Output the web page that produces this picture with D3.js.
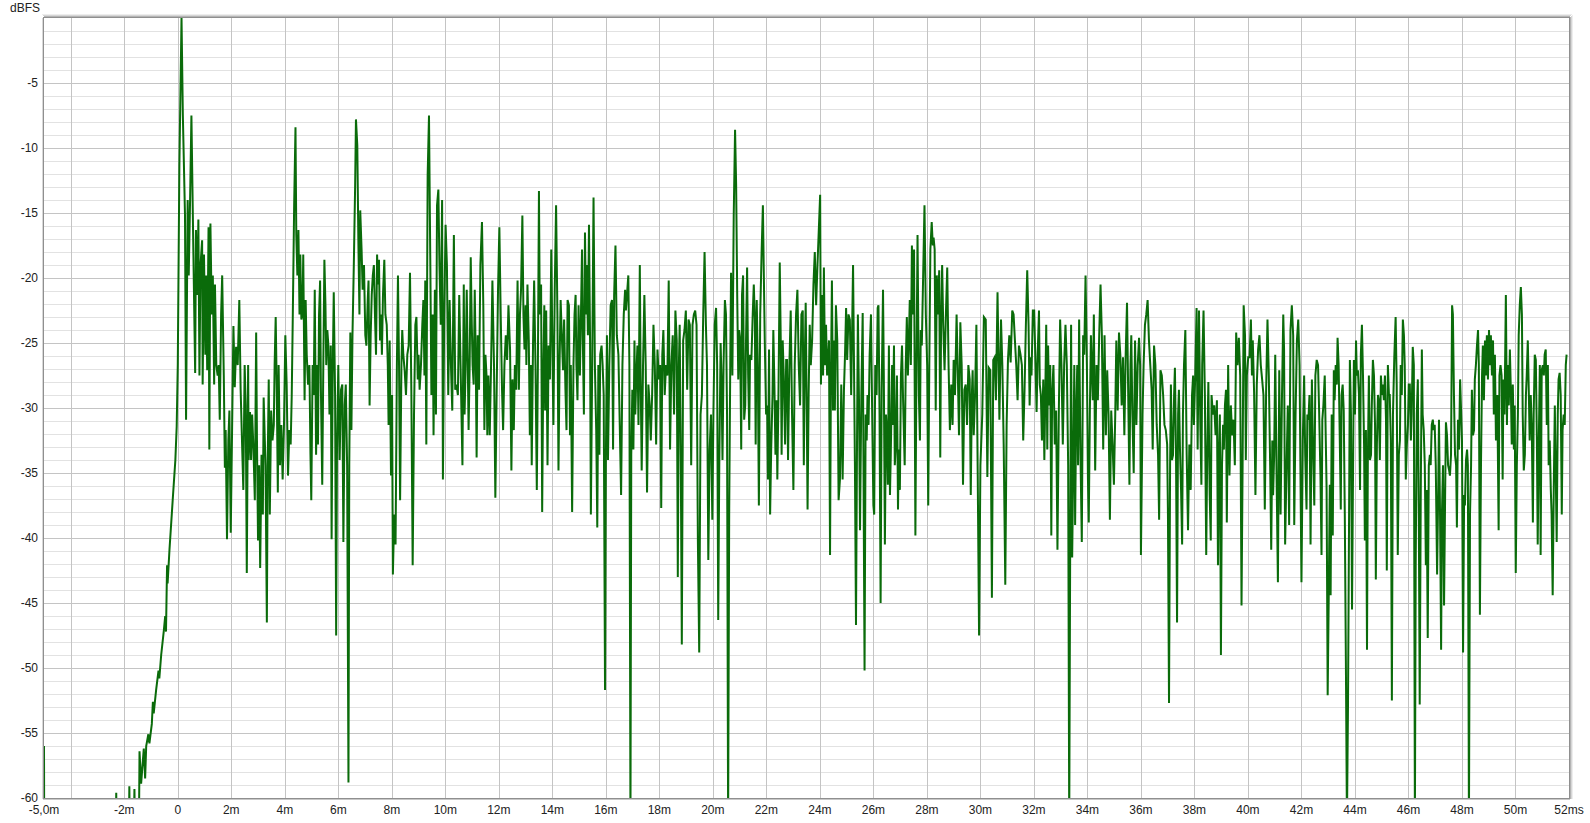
<!DOCTYPE html>
<html><head><meta charset="utf-8">
<script src="https://cdn.jsdelivr.net/npm/d3@7"></script>
<style>html,body{margin:0;padding:0;background:#fff;overflow:hidden;} svg{display:block;}</style>
</head><body>
<svg id="chart" width="1590" height="823"></svg>
<script>
// ---- data: impulse response level [time ms, level dBFS] ----
const preImpulse = [[-5.00,-56.0],[-4.99,-65],[-2.33,-65],[-2.30,-59.6],[-2.27,-65],[-1.84,-65],[-1.81,-59.1],[-1.78,-65],[-1.66,-65],[-1.62,-59.3],[-1.58,-65],[-1.46,-65],[-1.43,-56.4],[-1.37,-58.9],[-1.27,-56.2],[-1.22,-58.5],[-1.18,-56.0],[-1.10,-55.1],[-1.06,-55.8],[-0.97,-54.3],[-0.93,-52.6],[-0.90,-53.5],[-0.81,-51.7],[-0.72,-50.2],[-0.69,-50.8],[-0.62,-49.0],[-0.52,-47.1],[-0.47,-46.0],[-0.44,-47.2],[-0.40,-42.1],[-0.38,-43.5],[-0.31,-40.9],[-0.19,-37.1],[-0.09,-34.0],[-0.04,-31.4]];

const decay0to10 = [[0.00,-26.7],[0.06,-11.3],[0.14,0],[0.19,-7.5],[0.27,-15.2],[0.31,-30.9],[0.37,-14.0],[0.41,-19.8],[0.46,-14.0],[0.51,-7.5],[0.59,-19.0],[0.65,-27.3],[0.68,-16.3],[0.73,-21.3],[0.77,-15.5],[0.81,-27.5],[0.85,-19.0],[0.91,-17.1],[0.93,-28.2],[0.98,-18.2],[1.03,-25.9],[1.06,-19.8],[1.10,-27.1],[1.15,-16.1],[1.18,-33.2],[1.22,-15.8],[1.27,-22.8],[1.31,-19.8],[1.36,-28.2],[1.39,-20.5],[1.44,-26.7],[1.49,-27.5],[1.53,-26.7],[1.57,-30.9],[1.62,-22.8],[1.66,-19.8],[1.72,-27.5],[1.76,-34.6],[1.79,-31.7],[1.84,-40.1],[1.89,-32.5],[1.93,-30.2],[1.98,-39.6],[2.03,-31.7],[2.08,-23.7],[2.13,-28.4],[2.18,-25.3],[2.24,-26.7],[2.30,-21.7],[2.35,-28.6],[2.40,-32.5],[2.45,-36.3],[2.50,-26.7],[2.54,-29.8],[2.58,-42.7],[2.63,-26.7],[2.65,-34.0],[2.70,-30.3],[2.74,-34.0],[2.78,-30.5],[2.83,-33.2],[2.88,-37.1],[2.93,-24.2],[2.96,-32.5],[3.00,-40.2],[3.04,-34.4],[3.08,-42.3],[3.13,-33.6],[3.18,-38.2],[3.21,-29.2],[3.28,-34.4],[3.33,-46.5],[3.36,-34.4],[3.40,-27.8],[3.44,-38.2],[3.49,-30.2],[3.54,-32.5],[3.59,-31.3],[3.62,-26.7],[3.66,-23.0],[3.70,-28.6],[3.74,-36.5],[3.77,-26.7],[3.82,-34.4],[3.87,-31.3],[3.92,-35.5],[3.97,-31.3],[4.02,-24.4],[4.07,-28.2],[4.12,-35.2],[4.17,-31.7],[4.22,-32.8],[4.26,-29.0],[4.30,-22.8],[4.35,-14.4],[4.40,-8.4],[4.43,-16.7],[4.47,-19.8],[4.51,-16.3],[4.55,-22.8],[4.58,-18.2],[4.62,-23.2],[4.66,-22.8],[4.69,-18.2],[4.74,-29.4],[4.78,-21.7],[4.82,-25.9],[4.87,-28.2],[4.92,-26.7],[4.96,-33.6],[4.99,-37.1],[5.04,-26.7],[5.08,-29.0],[5.12,-20.9],[5.17,-33.6],[5.21,-26.7],[5.24,-32.8],[5.28,-22.8],[5.32,-20.2],[5.35,-28.6],[5.40,-35.9],[5.44,-26.7],[5.48,-18.6],[5.52,-22.1],[5.55,-26.7],[5.59,-24.0],[5.63,-25.2],[5.67,-30.5],[5.72,-25.2],[5.75,-40.1],[5.79,-27.5],[5.83,-21.1],[5.88,-29.0],[5.92,-47.5],[5.95,-33.6],[6.00,-26.7],[6.05,-34.0],[6.10,-28.6],[6.15,-28.2],[6.19,-40.3],[6.24,-29.8],[6.28,-28.2],[6.33,-34.4],[6.38,-58.8],[6.41,-34.4],[6.45,-24.2],[6.49,-31.7],[6.53,-24.4],[6.58,-19.0],[6.63,-12.8],[6.66,-7.8],[6.71,-9.8],[6.75,-17.1],[6.79,-22.8],[6.82,-14.8],[6.87,-17.8],[6.91,-20.9],[6.96,-19.0],[7.01,-24.4],[7.05,-25.2],[7.10,-21.7],[7.13,-20.2],[7.17,-29.8],[7.21,-24.4],[7.25,-21.3],[7.29,-19.8],[7.33,-19.0],[7.37,-22.8],[7.41,-25.9],[7.45,-18.2],[7.48,-20.5],[7.52,-18.6],[7.56,-24.8],[7.60,-22.8],[7.63,-25.9],[7.67,-21.3],[7.72,-18.6],[7.76,-22.8],[7.81,-23.6],[7.85,-26.7],[7.88,-31.3],[7.92,-24.8],[7.97,-35.2],[8.01,-29.0],[8.04,-42.8],[8.09,-38.2],[8.14,-40.5],[8.19,-26.7],[8.23,-19.8],[8.27,-26.7],[8.31,-37.1],[8.36,-26.7],[8.39,-24.0],[8.43,-25.9],[8.48,-27.1],[8.53,-29.0],[8.58,-25.9],[8.63,-25.2],[8.68,-19.6],[8.73,-28.6],[8.78,-42.1],[8.83,-30.5],[8.88,-23.6],[8.92,-23.0],[8.97,-27.8],[9.00,-25.9],[9.04,-28.6],[9.09,-26.7],[9.14,-23.6],[9.18,-21.7],[9.22,-27.5],[9.25,-20.2],[9.29,-32.8],[9.34,-12.1],[9.39,-7.5],[9.44,-19.0],[9.48,-29.0],[9.53,-22.8],[9.56,-32.1],[9.61,-20.9],[9.65,-30.5],[9.69,-14.4],[9.74,-13.2],[9.78,-19.0],[9.83,-23.6],[9.88,-14.0],[9.91,-35.5],[9.96,-22.8]];

const decay10to20 = [[10.01,-15.9],[10.06,-19.0],[10.11,-29.0],[10.16,-21.7],[10.21,-26.7],[10.26,-30.2],[10.32,-16.7],[10.37,-28.6],[10.42,-28.2],[10.47,-29.0],[10.52,-21.3],[10.57,-26.7],[10.64,-34.4],[10.69,-20.5],[10.72,-30.5],[10.76,-26.7],[10.80,-20.9],[10.84,-26.7],[10.87,-31.7],[10.91,-26.7],[10.95,-18.4],[10.99,-23.6],[11.02,-26.7],[11.06,-28.2],[11.10,-20.9],[11.14,-26.7],[11.17,-33.8],[11.21,-24.4],[11.26,-28.6],[11.31,-19.0],[11.37,-15.7],[11.42,-22.1],[11.46,-31.7],[11.50,-25.9],[11.54,-27.5],[11.57,-32.1],[11.61,-27.5],[11.66,-32.1],[11.71,-26.7],[11.76,-20.2],[11.82,-26.7],[11.87,-36.9],[11.92,-28.6],[11.97,-20.9],[12.02,-16.1],[12.07,-22.8],[12.12,-28.6],[12.16,-31.7],[12.21,-26.7],[12.26,-24.4],[12.31,-26.3],[12.36,-22.1],[12.42,-25.5],[12.47,-34.8],[12.51,-27.8],[12.56,-31.7],[12.60,-26.7],[12.65,-28.6],[12.70,-20.2],[12.75,-28.6],[12.79,-22.8],[12.83,-20.9],[12.88,-15.2],[12.92,-22.8],[12.96,-25.5],[13.00,-22.1],[13.03,-26.7],[13.07,-20.5],[13.12,-24.8],[13.16,-32.1],[13.20,-26.7],[13.23,-34.4],[13.28,-24.8],[13.32,-20.2],[13.37,-26.7],[13.42,-36.3],[13.46,-26.7],[13.50,-13.3],[13.53,-22.8],[13.58,-20.5],[13.62,-38.0],[13.66,-27.5],[13.70,-22.1],[13.73,-30.2],[13.77,-22.5],[13.82,-34.4],[13.86,-25.2],[13.91,-27.8],[13.96,-17.8],[14.01,-26.7],[14.04,-31.3],[14.09,-20.9],[14.14,-14.4],[14.19,-22.8],[14.23,-34.8],[14.27,-26.7],[14.31,-21.7],[14.36,-24.8],[14.40,-27.1],[14.44,-23.2],[14.49,-28.6],[14.53,-31.7],[14.57,-21.7],[14.62,-22.1],[14.66,-32.1],[14.69,-26.7],[14.74,-38.0],[14.79,-26.7],[14.83,-22.8],[14.87,-21.3],[14.90,-26.7],[14.94,-29.4],[14.98,-22.1],[15.03,-27.5],[15.07,-22.8],[15.11,-17.8],[15.14,-24.8],[15.18,-30.5],[15.22,-16.5],[15.26,-22.8],[15.29,-19.0],[15.33,-24.4],[15.37,-15.9],[15.41,-24.8],[15.44,-38.2],[15.49,-26.7],[15.54,-13.8],[15.59,-26.7],[15.64,-31.7],[15.68,-39.2],[15.72,-26.7],[15.76,-33.6],[15.79,-25.9],[15.84,-25.2],[15.88,-26.7],[15.92,-29.0],[15.97,-51.7],[16.00,-34.4],[16.04,-24.4],[16.08,-34.0],[16.13,-26.7],[16.18,-22.1],[16.23,-21.7],[16.27,-33.2],[16.31,-21.3],[16.36,-17.5],[16.41,-24.4],[16.47,-25.9],[16.52,-31.3],[16.57,-36.7],[16.62,-26.7],[16.67,-22.8],[16.72,-20.9],[16.75,-22.5],[16.79,-21.3],[16.84,-19.8],[16.88,-26.7],[16.92,-62],[16.95,-33.6],[16.99,-28.6],[17.03,-33.2],[17.07,-24.8],[17.10,-30.5],[17.14,-27.5],[17.18,-25.2],[17.22,-31.3],[17.27,-19.0],[17.30,-27.5],[17.34,-34.8],[17.39,-26.7],[17.44,-21.3],[17.49,-26.7],[17.54,-36.5],[17.59,-28.2],[17.64,-29.8],[17.68,-32.5],[17.73,-29.0],[17.78,-23.6],[17.83,-26.7],[17.88,-32.8],[17.93,-25.5],[17.98,-27.8],[18.03,-26.7],[18.07,-37.7],[18.11,-25.9],[18.15,-24.0],[18.20,-29.0],[18.25,-26.7],[18.30,-27.5],[18.35,-20.2],[18.40,-33.2],[18.45,-26.7],[18.50,-24.4],[18.55,-30.5],[18.60,-22.5],[18.65,-24.8],[18.69,-43.0],[18.73,-26.7],[18.76,-23.6],[18.80,-33.6],[18.84,-48.2],[18.89,-24.8],[18.94,-24.0],[18.99,-22.5],[19.04,-28.6],[19.09,-23.2],[19.14,-23.6],[19.19,-34.4],[19.24,-23.6],[19.29,-22.8],[19.34,-22.5],[19.39,-23.6],[19.44,-40.2],[19.49,-48.8],[19.54,-30.5],[19.59,-29.0],[19.64,-22.8],[19.69,-18.0],[19.74,-23.6],[19.78,-26.7],[19.83,-41.7],[19.88,-33.2],[19.93,-30.5]];

const decay20to30 = [[19.98,-38.6],[20.02,-30.5],[20.07,-23.6],[20.12,-22.3],[20.16,-26.7],[20.20,-46.3],[20.24,-34.4],[20.29,-25.0],[20.32,-27.5],[20.36,-34.0],[20.40,-26.7],[20.45,-21.7],[20.49,-22.8],[20.53,-30.5],[20.57,-62],[20.61,-38.2],[20.65,-26.7],[20.68,-19.6],[20.73,-27.5],[20.78,-15.2],[20.83,-8.6],[20.87,-12.8],[20.91,-21.3],[20.95,-27.8],[20.98,-24.0],[21.02,-24.8],[21.06,-33.2],[21.09,-21.3],[21.13,-19.8],[21.17,-30.9],[21.21,-29.8],[21.24,-24.8],[21.28,-19.2],[21.32,-27.5],[21.36,-31.7],[21.39,-25.9],[21.44,-26.3],[21.49,-22.8],[21.53,-20.5],[21.57,-23.2],[21.60,-32.8],[21.64,-21.7],[21.68,-26.7],[21.72,-37.5],[21.77,-22.8],[21.82,-18.2],[21.87,-14.4],[21.90,-19.0],[21.94,-24.8],[21.99,-30.5],[22.03,-29.8],[22.06,-35.5],[22.10,-25.5],[22.14,-38.2],[22.18,-33.2],[22.23,-29.0],[22.26,-24.0],[22.30,-28.2],[22.34,-33.6],[22.38,-29.4],[22.41,-35.5],[22.45,-29.4],[22.50,-18.8],[22.54,-25.2],[22.57,-33.6],[22.61,-24.8],[22.65,-27.5],[22.70,-32.8],[22.74,-26.3],[22.77,-26.3],[22.81,-34.0],[22.86,-26.7],[22.91,-22.5],[22.96,-30.5],[23.01,-36.3],[23.06,-26.7],[23.11,-22.8],[23.16,-20.9],[23.21,-26.7],[23.26,-29.8],[23.31,-22.8],[23.36,-22.5],[23.40,-34.4],[23.43,-27.1],[23.47,-21.9],[23.51,-30.5],[23.54,-37.8],[23.58,-29.0],[23.62,-23.6],[23.66,-26.7],[23.71,-24.8],[23.76,-20.5],[23.81,-18.0],[23.86,-22.1],[23.91,-19.0],[23.96,-16.3],[24.01,-13.6],[24.04,-28.2],[24.08,-21.3],[24.12,-27.5],[24.15,-19.2],[24.19,-26.7],[24.23,-23.6],[24.27,-27.5],[24.30,-26.7],[24.34,-24.8],[24.38,-41.3],[24.41,-28.6],[24.45,-20.2],[24.49,-30.2],[24.53,-24.8],[24.56,-30.2],[24.60,-22.1],[24.65,-24.8],[24.70,-37.1],[24.75,-35.5],[24.80,-28.2],[24.85,-35.5],[24.90,-28.6],[24.94,-25.9],[24.98,-22.3],[25.02,-26.3],[25.07,-22.8],[25.12,-23.2],[25.17,-29.0],[25.24,-19.0],[25.27,-25.5],[25.31,-34.4],[25.35,-46.7],[25.39,-32.1],[25.42,-22.8],[25.46,-29.0],[25.50,-39.4],[25.55,-29.0],[25.60,-22.7],[25.63,-34.4],[25.67,-50.2],[25.71,-30.5],[25.75,-32.5],[25.78,-29.0],[25.82,-31.3],[25.86,-25.9],[25.91,-22.8],[25.96,-31.3],[26.00,-37.5],[26.03,-38.2],[26.07,-26.7],[26.12,-29.0],[26.16,-22.3],[26.19,-22.1],[26.23,-30.5],[26.27,-45.0],[26.31,-28.6],[26.36,-20.9],[26.39,-27.5],[26.43,-40.5],[26.47,-30.5],[26.51,-32.1],[26.54,-35.9],[26.58,-25.2],[26.62,-36.7],[26.65,-33.6],[26.70,-26.7],[26.73,-31.3],[26.77,-25.2],[26.80,-34.4],[26.84,-32.8],[26.88,-27.5],[26.92,-37.8],[26.95,-33.2],[26.99,-36.3],[27.03,-27.5],[27.07,-25.2],[27.11,-29.4],[27.17,-34.4],[27.21,-26.7],[27.25,-23.0],[27.29,-27.5],[27.33,-24.4],[27.36,-21.7],[27.40,-26.7],[27.44,-17.5],[27.48,-22.8],[27.52,-17.8],[27.57,-39.8],[27.61,-26.7],[27.65,-16.7],[27.70,-29.0],[27.74,-32.5],[27.77,-24.0],[27.81,-25.2],[27.86,-19.8],[27.91,-14.4],[27.96,-22.8],[28.01,-26.7],[28.05,-37.5],[28.09,-26.7],[28.13,-17.8],[28.18,-15.7],[28.22,-17.5],[28.25,-16.9],[28.29,-17.8],[28.33,-30.2],[28.37,-19.8],[28.41,-22.8],[28.46,-19.4],[28.50,-33.8],[28.53,-23.6],[28.57,-19.0],[28.61,-23.6],[28.66,-27.1],[28.71,-22.8],[28.76,-19.2],[28.81,-26.7],[28.86,-31.7],[28.91,-28.2],[28.96,-31.3],[29.00,-26.3],[29.05,-29.0],[29.11,-22.8],[29.15,-26.7],[29.20,-32.1],[29.25,-23.4],[29.30,-26.7],[29.35,-35.9],[29.40,-28.6],[29.45,-28.2],[29.50,-31.3],[29.55,-26.7],[29.60,-27.8],[29.64,-36.7],[29.68,-29.0],[29.71,-27.1],[29.75,-32.1],[29.80,-29.0],[29.85,-23.6],[29.90,-35.2],[29.95,-47.5],[30.00,-34.4]];

const decay30to41 = [[30.07,-30.5],[30.13,-23.0],[30.20,-23.2],[30.26,-35.3],[30.31,-26.9],[30.37,-27.1],[30.43,-44.6],[30.48,-26.3],[30.53,-26.1],[30.58,-29.4],[30.64,-21.1],[30.71,-30.9],[30.77,-23.2],[30.82,-26.7],[30.87,-32.8],[30.93,-43.6],[30.98,-31.3],[31.03,-26.3],[31.08,-24.4],[31.13,-26.5],[31.19,-22.5],[31.24,-22.8],[31.29,-24.8],[31.34,-26.7],[31.39,-29.4],[31.44,-25.2],[31.50,-25.9],[31.55,-26.7],[31.60,-32.5],[31.65,-28.6],[31.70,-23.6],[31.75,-19.4],[31.80,-23.6],[31.84,-29.8],[31.88,-26.1],[31.91,-27.5],[31.96,-22.5],[32.01,-22.5],[32.06,-26.7],[32.10,-30.3],[32.14,-25.9],[32.19,-22.5],[32.22,-28.2],[32.26,-29.0],[32.30,-32.5],[32.35,-27.8],[32.39,-34.0],[32.42,-29.8],[32.46,-23.6],[32.50,-33.2],[32.53,-25.2],[32.57,-29.8],[32.61,-26.7],[32.65,-39.8],[32.68,-29.0],[32.73,-26.7],[32.78,-32.8],[32.83,-30.2],[32.88,-40.9],[32.93,-30.5],[32.98,-23.2],[33.03,-26.7],[33.08,-32.8],[33.13,-26.7],[33.18,-23.6],[33.23,-26.7],[33.28,-34.4],[33.32,-62],[33.36,-38.2],[33.39,-23.6],[33.43,-41.5],[33.47,-34.4],[33.51,-26.7],[33.54,-39.0],[33.58,-30.5],[33.62,-26.7],[33.65,-34.4],[33.69,-23.2],[33.74,-33.6],[33.79,-40.3],[33.84,-24.4],[33.88,-25.9],[33.93,-19.8],[33.98,-26.7],[34.02,-35.5],[34.05,-38.8],[34.09,-30.5],[34.13,-24.4],[34.16,-26.7],[34.20,-29.4],[34.24,-22.8],[34.29,-34.8],[34.34,-26.7],[34.39,-29.4],[34.44,-24.4],[34.49,-20.5],[34.54,-24.4],[34.59,-33.2],[34.64,-24.4],[34.69,-32.1],[34.74,-27.1],[34.79,-30.5],[34.84,-38.6],[34.89,-30.2],[34.94,-32.8],[34.99,-35.9],[35.04,-30.5],[35.08,-24.8],[35.13,-30.2],[35.18,-24.2],[35.23,-25.9],[35.28,-29.8],[35.33,-26.1],[35.38,-32.1],[35.43,-25.9],[35.48,-21.9],[35.53,-29.8],[35.57,-35.9],[35.61,-26.7],[35.64,-24.4],[35.68,-30.5],[35.73,-35.0],[35.78,-24.8],[35.83,-31.3],[35.88,-26.7],[35.93,-24.6],[35.97,-26.7],[36.00,-41.3],[36.06,-30.5],[36.10,-26.7],[36.15,-23.6],[36.20,-22.8],[36.25,-21.7],[36.30,-24.8],[36.35,-26.7],[36.40,-28.6],[36.44,-33.2],[36.49,-25.2],[36.54,-26.7],[36.59,-31.3],[36.64,-33.6],[36.68,-38.6],[36.73,-27.1],[36.78,-27.5],[36.83,-29.0],[36.88,-31.3],[36.93,-31.7],[36.98,-32.8],[37.01,-38.2],[37.05,-52.7],[37.09,-34.4],[37.12,-28.2],[37.16,-34.0],[37.20,-33.6],[37.24,-29.0],[37.27,-26.9],[37.31,-33.2],[37.35,-46.5],[37.39,-30.5],[37.42,-28.6],[37.46,-33.2],[37.50,-36.3],[37.54,-40.5],[37.57,-30.5],[37.61,-26.7],[37.66,-24.0],[37.71,-33.6],[37.76,-39.4],[37.81,-32.8],[37.86,-36.3],[37.91,-29.0],[37.95,-27.5],[37.98,-31.3],[38.03,-27.5],[38.08,-22.3],[38.12,-33.2],[38.17,-22.5],[38.22,-31.3],[38.26,-35.9],[38.29,-26.7],[38.34,-22.5],[38.39,-29.0],[38.44,-41.3],[38.48,-33.2],[38.52,-28.0],[38.57,-36.7],[38.61,-40.2],[38.64,-29.0],[38.69,-30.5],[38.74,-29.8],[38.79,-32.1],[38.84,-29.4],[38.88,-42.1],[38.92,-33.2],[38.95,-30.5],[38.99,-49.0],[39.03,-34.4],[39.07,-31.3],[39.10,-33.2],[39.14,-29.8],[39.18,-28.6],[39.21,-38.8],[39.26,-26.7],[39.31,-35.2],[39.36,-29.8],[39.41,-32.1],[39.46,-30.9],[39.51,-34.4],[39.56,-24.2],[39.61,-26.7],[39.66,-24.6],[39.71,-27.5],[39.76,-45.2],[39.80,-34.4],[39.84,-22.1],[39.89,-24.4],[39.92,-34.0],[39.96,-27.5],[40.01,-26.1],[40.06,-26.1],[40.11,-23.2],[40.15,-27.5],[40.18,-24.8],[40.23,-28.8],[40.28,-36.7],[40.33,-28.2],[40.38,-25.5],[40.43,-24.4],[40.48,-26.7],[40.53,-27.8],[40.58,-29.0],[40.63,-37.8],[40.68,-28.6],[40.73,-23.2],[40.78,-27.5],[40.83,-34.4],[40.87,-40.9],[40.91,-32.5],[40.94,-36.7],[40.98,-33.6],[41.02,-25.9]];

const decay41to52 = [[41.07,-35.2],[41.12,-43.4],[41.17,-27.1],[41.22,-38.2],[41.27,-29.4],[41.32,-22.8],[41.35,-25.5],[41.39,-40.5],[41.44,-34.8],[41.49,-29.8],[41.54,-39.0],[41.59,-24.0],[41.64,-22.1],[41.69,-24.4],[41.73,-39.0],[41.78,-30.5],[41.83,-24.8],[41.88,-23.2],[41.93,-26.7],[41.96,-34.4],[42.00,-43.4],[42.05,-32.5],[42.10,-27.5],[42.14,-33.6],[42.19,-37.8],[42.22,-30.5],[42.26,-30.9],[42.30,-29.0],[42.34,-40.5],[42.39,-27.8],[42.43,-32.8],[42.48,-37.5],[42.52,-27.5],[42.57,-26.3],[42.62,-26.7],[42.66,-30.2],[42.71,-35.2],[42.75,-41.3],[42.78,-30.9],[42.82,-29.8],[42.87,-27.5],[42.91,-32.5],[42.94,-36.3],[42.98,-52.1],[43.02,-44.4],[43.06,-35.9],[43.09,-44.4],[43.13,-30.5],[43.17,-39.8],[43.21,-27.1],[43.24,-29.4],[43.28,-26.7],[43.32,-28.2],[43.35,-24.6],[43.39,-26.7],[43.43,-32.1],[43.47,-37.8],[43.50,-29.0],[43.54,-28.2],[43.58,-30.2],[43.62,-38.2],[43.66,-49.4],[43.70,-62],[43.74,-52.8],[43.78,-38.2],[43.81,-26.3],[43.85,-30.5],[43.89,-45.5],[43.93,-34.4],[43.96,-26.3],[44.00,-30.5],[44.04,-24.8],[44.07,-27.5],[44.11,-27.1],[44.15,-29.0],[44.19,-36.3],[44.22,-25.9],[44.26,-23.6],[44.30,-27.5],[44.34,-32.8],[44.37,-40.2],[44.41,-31.7],[44.45,-48.6],[44.48,-34.4],[44.52,-27.5],[44.56,-34.0],[44.60,-33.6],[44.63,-29.8],[44.67,-26.3],[44.71,-27.5],[44.75,-31.3],[44.78,-43.2],[44.82,-32.8],[44.86,-29.0],[44.89,-29.4],[44.93,-34.0],[44.97,-27.5],[45.01,-29.0],[45.04,-28.2],[45.08,-29.4],[45.12,-27.5],[45.16,-30.9],[45.19,-42.5],[45.23,-26.7],[45.27,-29.0],[45.30,-29.0],[45.34,-32.5],[45.38,-52.5],[45.42,-30.5],[45.47,-26.1],[45.52,-23.0],[45.56,-28.2],[45.60,-41.3],[45.64,-33.6],[45.68,-32.5],[45.71,-26.7],[45.75,-29.0],[45.79,-23.2],[45.83,-24.4],[45.86,-26.7],[45.90,-35.5],[45.94,-32.8],[45.98,-31.3],[46.01,-28.2],[46.05,-28.2],[46.09,-32.5],[46.12,-30.5],[46.16,-25.3],[46.20,-26.7],[46.24,-62],[46.27,-42.1],[46.31,-30.5],[46.35,-27.8],[46.39,-39.8],[46.42,-52.8],[46.46,-36.3],[46.50,-25.5],[46.53,-30.5],[46.57,-31.7],[46.61,-34.4],[46.65,-42.1],[46.68,-36.3],[46.72,-47.7],[46.76,-34.4],[46.80,-33.6],[46.83,-34.4],[46.87,-31.3],[46.91,-30.9],[46.94,-31.7],[46.98,-31.3],[47.02,-34.4],[47.07,-42.8],[47.11,-36.7],[47.14,-30.9],[47.18,-38.2],[47.22,-48.6],[47.25,-38.2],[47.29,-34.4],[47.33,-45.2],[47.37,-36.7],[47.40,-31.1],[47.44,-32.1],[47.48,-34.4],[47.52,-34.8],[47.55,-35.2],[47.59,-33.6],[47.63,-22.1],[47.66,-22.8],[47.70,-29.0],[47.74,-33.6],[47.78,-34.4],[47.81,-39.2],[47.85,-30.9],[47.89,-33.2],[47.93,-27.8],[47.96,-29.8],[48.00,-32.5],[48.04,-48.8],[48.08,-36.7],[48.11,-37.5],[48.15,-34.0],[48.19,-33.2],[48.22,-34.4],[48.26,-62],[48.30,-38.2],[48.34,-34.4],[48.37,-28.6],[48.41,-32.1],[48.45,-31.7],[48.48,-27.8],[48.52,-26.7],[48.56,-25.2],[48.60,-24.0],[48.63,-26.7],[48.67,-45.9],[48.71,-34.4],[48.75,-27.5],[48.78,-25.2],[48.82,-29.4],[48.86,-24.8],[48.89,-27.5],[48.93,-24.4],[48.97,-27.8],[49.01,-24.0],[49.04,-26.7],[49.08,-24.4],[49.12,-27.5],[49.16,-24.8],[49.19,-30.5],[49.23,-25.9],[49.27,-32.5],[49.32,-29.0],[49.37,-39.4],[49.40,-27.5],[49.44,-26.7],[49.48,-27.5],[49.52,-35.5],[49.55,-27.8],[49.59,-30.5],[49.64,-21.3],[49.68,-31.3],[49.71,-26.7],[49.75,-29.8],[49.79,-25.5],[49.83,-29.0],[49.86,-32.8],[49.90,-28.2],[49.94,-33.2],[49.97,-29.8],[50.01,-42.7],[50.05,-34.4],[50.09,-30.5],[50.12,-24.4],[50.16,-22.1],[50.20,-20.7],[50.24,-22.8],[50.27,-30.5],[50.31,-34.8],[50.35,-33.6],[50.39,-29.0],[50.42,-27.5],[50.46,-24.8],[50.50,-29.0],[50.53,-32.5],[50.57,-29.0],[50.61,-31.7],[50.65,-38.8],[50.68,-30.5],[50.72,-25.9],[50.76,-26.3],[50.80,-32.5],[50.83,-40.5],[50.87,-32.8],[50.91,-26.7],[50.94,-41.3],[50.98,-27.1],[51.02,-26.7],[51.06,-27.5],[51.09,-25.9],[51.13,-25.5],[51.17,-31.3],[51.21,-26.7],[51.24,-34.4],[51.28,-32.5],[51.32,-36.3],[51.35,-38.2],[51.39,-44.4],[51.43,-36.3],[51.47,-29.8],[51.50,-34.4],[51.54,-40.3],[51.58,-30.5],[51.61,-27.8],[51.65,-27.3],[51.69,-29.0],[51.73,-38.2],[51.76,-31.7],[51.80,-30.5],[51.84,-31.3],[51.88,-26.7],[51.91,-25.9]];

// ---- axes ----
const xTickValues = [-5,-2,0,2,4,6,8,10,12,14,16,18,20,22,24,26,28,30,32,34,36,38,40,42,44,46,48,50,52];
const xTickLabels = ["-5,0m","-2m","0","2m","4m","6m","8m","10m","12m","14m","16m","18m","20m","22m","24m","26m","28m","30m","32m","34m","36m","38m","40m","42m","44m","46m","48m","50m","52ms"];
const xGridValues = [-4,-2,0,2,4,6,8,10,12,14,16,18,20,22,24,26,28,30,32,34,36,38,40,42,44,46,48,50];
const yTickValues = [-5,-10,-15,-20,-25,-30,-35,-40,-45,-50,-55,-60];
const yTickLabels = ["-5","-10","-15","-20","-25","-30","-35","-40","-45","-50","-55","-60"];
const yAxisTitle = "dBFS";
const xDomain = [-5, 52];
const yDomain = [-60, 0];

// ---- drawing ----
const series = [].concat(preImpulse, decay0to10, decay10to20, decay20to30, decay30to41, decay41to52);
const L = 44, R = 1569, T = 18, B = 798;
const x = d3.scaleLinear().domain(xDomain).range([L, R]);
const y = d3.scaleLinear().domain(yDomain).range([B, T]);
const svg = d3.select("#chart");
const font = "'Liberation Sans', Arial, sans-serif";

svg.append("rect").attr("x", L).attr("y", T).attr("width", R - L).attr("height", B - T).attr("fill", "#fff");

// minor horizontal grid
const minor = d3.range(-59, 0, 1).filter(v => v % 5 !== 0);
svg.append("g").selectAll("line").data(minor).join("line")
  .attr("x1", L).attr("x2", R)
  .attr("y1", d => Math.round(y(d)) + 0.5).attr("y2", d => Math.round(y(d)) + 0.5)
  .attr("stroke", "#e2e2e2").attr("stroke-width", 1);
// major horizontal grid
svg.append("g").selectAll("line").data(yTickValues.filter(v => v > -60)).join("line")
  .attr("x1", L).attr("x2", R)
  .attr("y1", d => Math.round(y(d)) + 0.5).attr("y2", d => Math.round(y(d)) + 0.5)
  .attr("stroke", "#c4c4c4").attr("stroke-width", 1);
// vertical grid
svg.append("g").selectAll("line").data(xGridValues).join("line")
  .attr("x1", d => Math.round(x(d)) + 0.5).attr("x2", d => Math.round(x(d)) + 0.5)
  .attr("y1", T).attr("y2", B)
  .attr("stroke", "#c4c4c4").attr("stroke-width", 1);

// clip
svg.append("clipPath").attr("id", "plotClip").append("rect")
  .attr("x", L - 1).attr("y", T).attr("width", R - L + 1).attr("height", B - T);

const line = d3.line().x(d => x(d[0])).y(d => y(d[1]));
svg.append("path").datum(series)
  .attr("clip-path", "url(#plotClip)")
  .attr("d", line)
  .attr("fill", "none").attr("stroke", "#0a6b0a").attr("stroke-width", 2)
  .attr("stroke-linejoin", "miter");

// frame with soft shadow on top and right
const shadow = [["#ededed", 3], ["#d6d6d6", 2], ["#b4b4b4", 1]];
shadow.forEach(([c, o]) => {
  svg.append("line").attr("x1", L - o + 1).attr("x2", R + o).attr("y1", T - o - 0.5).attr("y2", T - o - 0.5).attr("stroke", c);
  svg.append("line").attr("x1", R + o + 0.5).attr("x2", R + o + 0.5).attr("y1", T - o).attr("y2", B + 1).attr("stroke", c);
});
svg.append("rect").attr("x", L - 0.5).attr("y", T - 0.5).attr("width", R - L + 1).attr("height", B - T + 1)
  .attr("fill", "none").attr("stroke", "#8f8f8f").attr("stroke-width", 1);
svg.append("line").attr("x1", L - 1).attr("x2", R + 1).attr("y1", B + 1.5).attr("y2", B + 1.5).attr("stroke", "#c8c8c8");
svg.append("line").attr("x1", L - 1.5).attr("x2", L - 1.5).attr("y1", T).attr("y2", B + 1).attr("stroke", "#d8d8d8");

// y labels
svg.append("g").selectAll("text").data(yTickValues).join("text")
  .attr("x", 38).attr("y", d => y(d)).attr("dy", "0.35em")
  .attr("text-anchor", "end").attr("font-family", font).attr("font-size", 12).attr("fill", "#222")
  .text((d, i) => yTickLabels[i]);
// x labels
svg.append("g").selectAll("text").data(xTickValues).join("text")
  .attr("x", d => x(d)).attr("y", 814)
  .attr("text-anchor", "middle").attr("font-family", font).attr("font-size", 12).attr("fill", "#222")
  .text((d, i) => xTickLabels[i]);
// axis title
svg.append("text").attr("x", 10).attr("y", 12).attr("font-family", font).attr("font-size", 12).attr("fill", "#222").text(yAxisTitle);
</script>
</body></html>
